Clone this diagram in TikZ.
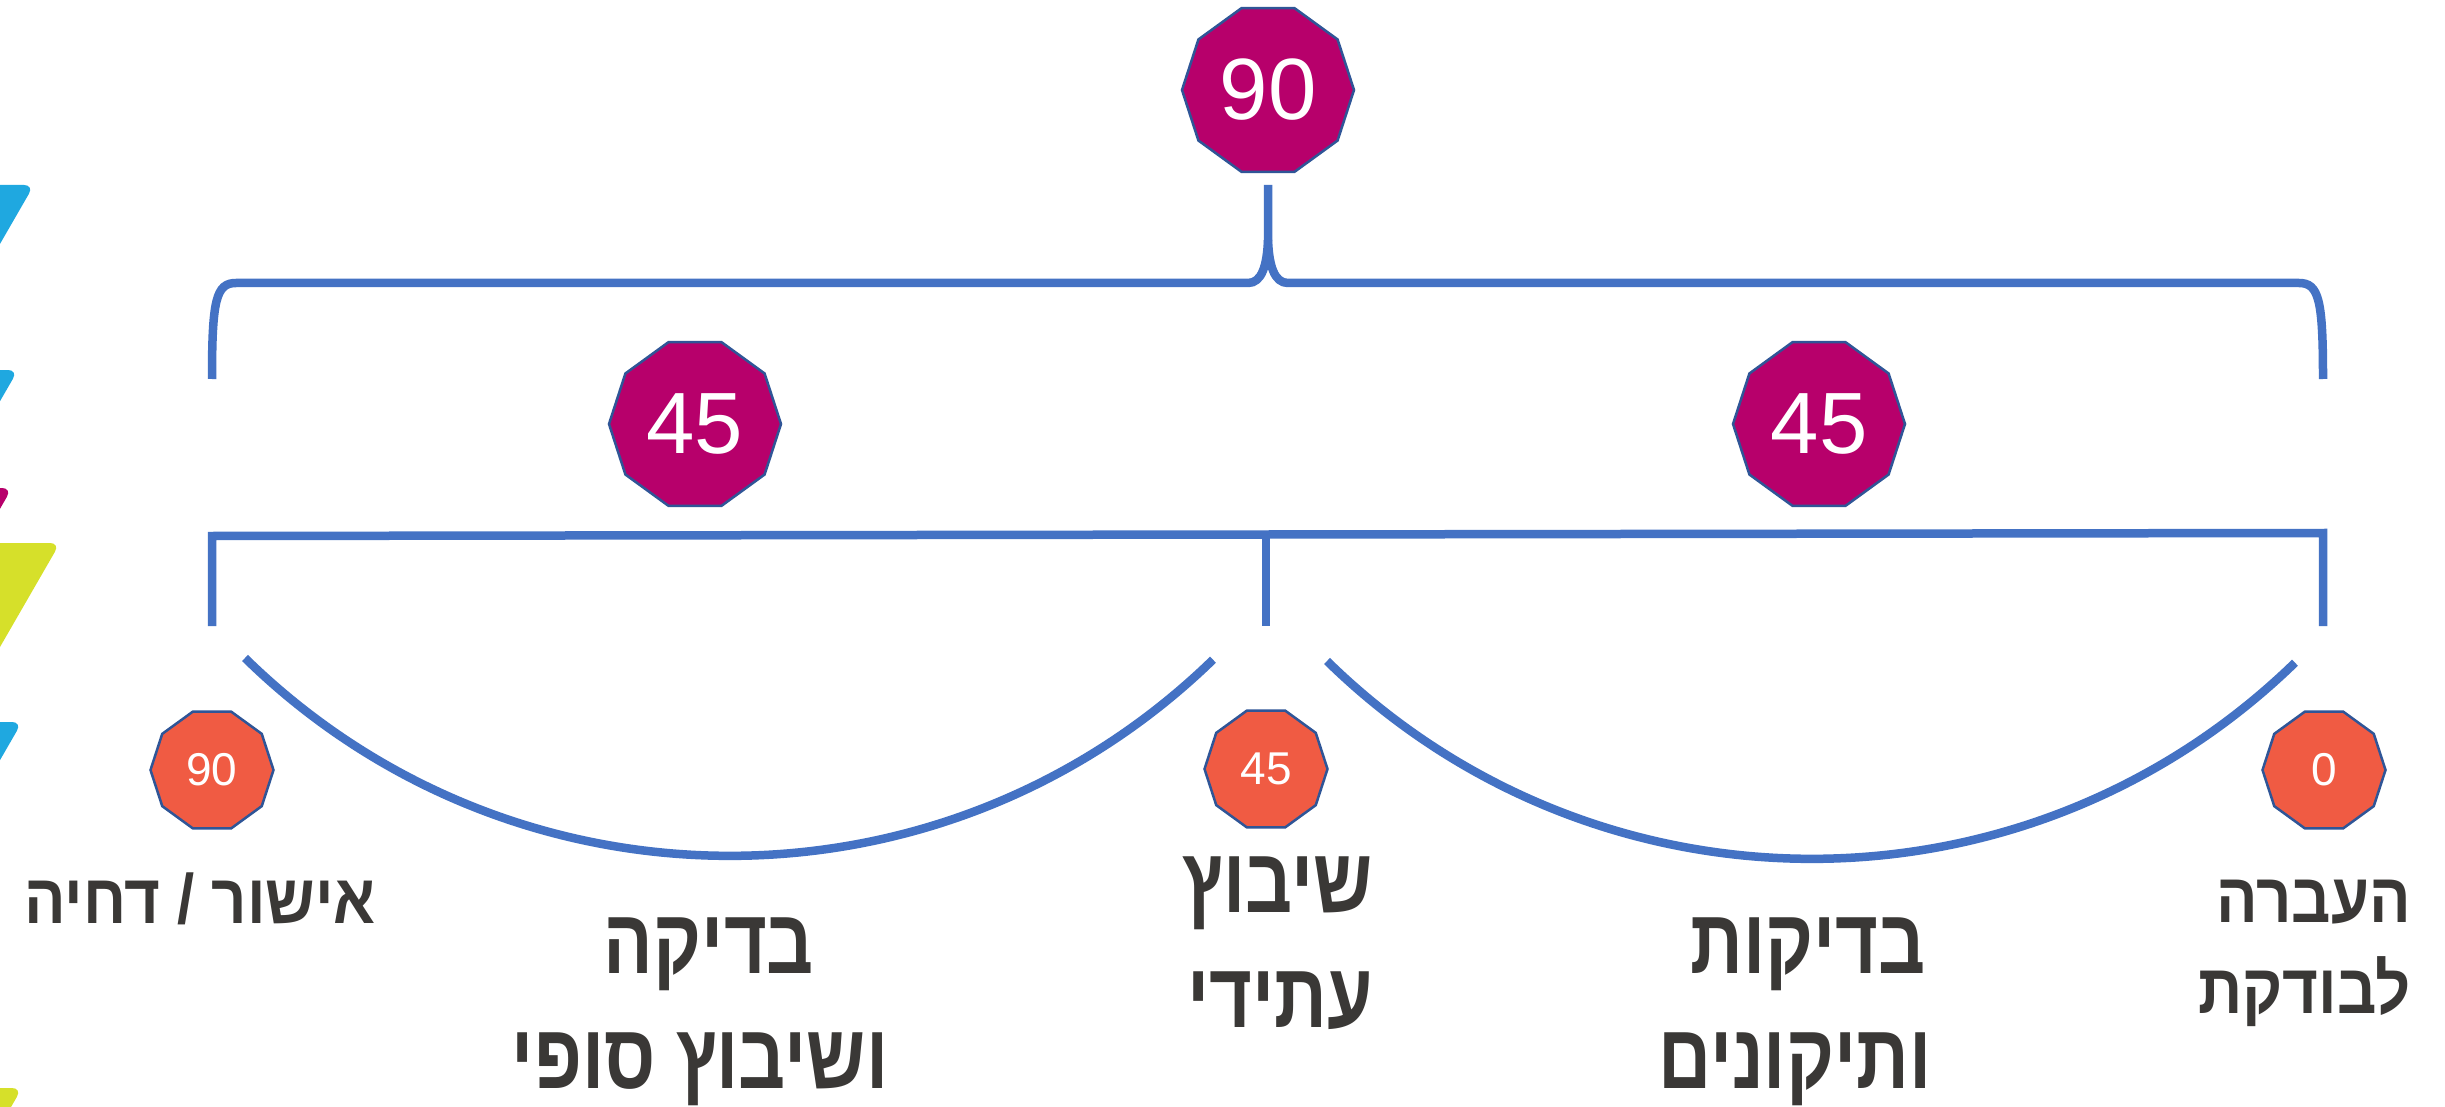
\documentclass[tikz,border=0pt]{standalone}
\usepackage{fontspec}
\setmainfont{Liberation Sans}
\newfontfamily\hebfont[Script=Hebrew,FakeStretch=0.8]{Liberation Sans}
\newfontfamily\hebsmallfont[Script=Hebrew,FakeStretch=0.88]{Liberation Sans}
\TeXXeTstate=1
\usetikzlibrary{shapes.geometric}
\definecolor{plum}{RGB}{183,0,107}
\definecolor{coral}{RGB}{240,91,67}
\definecolor{rim}{RGB}{47,85,151}
\definecolor{linkblue}{RGB}{68,114,196}
\definecolor{ink}{RGB}{58,56,54}
\definecolor{sky}{RGB}{31,168,224}
\definecolor{lime}{RGB}{214,224,42}
\newcommand{\heb}[1]{{\beginR #1\endR}}

\begin{document}
\begin{tikzpicture}[x=1pt,y=-1pt]
\tikzstyle{deca}=[shape=regular polygon,regular polygon sides=10,draw=rim,line width=2.5pt,inner sep=0pt,text=white]
\tikzstyle{bigdeca}=[deca,fill=plum,minimum size=172pt,font=\fontsize{87}{87}\selectfont]
\tikzstyle{smalldeca}=[deca,fill=coral,minimum size=123pt,font=\fontsize{46}{46}\selectfont]
\tikzstyle{brace}=[draw=linkblue,line width=8.5pt]
\tikzstyle{biglabel}=[text=ink,inner sep=0pt,font=\hebfont\bfseries\fontsize{92}{92}\selectfont]
\tikzstyle{smalllabel}=[text=ink,inner sep=0pt,font=\hebsmallfont\bfseries\fontsize{70}{70}\selectfont]
\path[use as bounding box,fill=white] (0,0) rectangle (2445,1107);
\foreach \c/\a/\t in {sky/34/185,sky/18/370,plum/12/488,lime/60/543,sky/22/722,lime/22/1088}
	\fill[\c,rounded corners=10pt] (\a-240,\t) -- (\a,\t) -- (\a-120,\t+208) -- cycle;
\node[bigdeca] (total) at (1268,90) {90};
\node[bigdeca] (firsthalf) at (695,424) {45};
\node[bigdeca] (secondhalf) at (1819,424) {45};
\node[smalldeca] (at90) at (212,770) {90};
\node[smalldeca] (at45) at (1266,769) {45};
\node[smalldeca] (at0) at (2324,770) {0};
\coordinate (topleft) at (212,379);
\coordinate (topright) at (2323,379);
\coordinate (topstem) at (1268,185);
\coordinate (midleft) at (212,626);
\coordinate (midcentre) at (1266,626);
\coordinate (midright) at (2323,626);
\coordinate (arcaleft) at (245,658);
\coordinate (arcbleft) at (1327,661);
\draw[brace] (topleft) .. controls (212,300) and (216,283) .. (236,283) -- (1248,283) .. controls (1262,283) and (1267,265) .. (1268,240) -- (topstem);
\draw[brace] (topright) .. controls (2323,300) and (2319,283) .. (2299,283) -- (1288,283) .. controls (1274,283) and (1269,265) .. (1268,240);
\draw[brace] (midleft) -- (212,536) -- (2323,533) -- (midright);
\draw[brace] (1266,535) -- (midcentre);
\draw[brace] (arcaleft) arc[start angle=134.4,end angle=45.8,radius=693];
\draw[brace] (arcbleft) arc[start angle=134.4,end angle=45.8,radius=693];
\node[smalllabel,anchor=base] (approve) at (200,923) {\heb{אישור / דחיה}};
\node[biglabel,anchor=base] (final1) at (709,973) {\heb{בדיקה}};
\node[biglabel,anchor=base] (final2) at (700,1088) {\heb{ושיבוץ סופי}};
\node[biglabel,anchor=base east] (future1) at (1373,912) {\heb{שיבוץ}};
\node[biglabel,anchor=base east] (future2) at (1373,1027) {\heb{עתידי}};
\node[biglabel,anchor=base] (fixes1) at (1808,973) {\heb{בדיקות}};
\node[biglabel,anchor=base] (fixes2) at (1795,1088) {\heb{ותיקונים}};
\node[smalllabel,anchor=base east] (handover1) at (2411,922) {\heb{העברה}};
\node[smalllabel,anchor=base east] (handover2) at (2411,1013) {\heb{לבודקת}};
\end{tikzpicture}
\end{document}
